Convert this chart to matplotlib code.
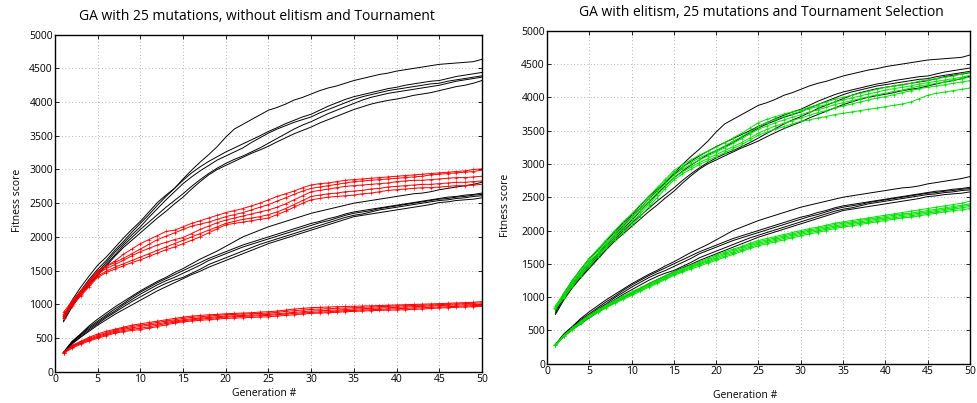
import matplotlib

matplotlib.use("Agg")
import matplotlib.pyplot as plt  # noqa: E402

plt.rcParams["font.family"] = ["Open Sans", "DejaVu Sans"]

generations = list(range(1, 51))

# black runs (same in both panels)
black_upper = [
    [800, 1060, 1250, 1420, 1580, 1700, 1840, 1980, 2110, 2230, 2370, 2510, 2620, 2720, 2860, 2990, 3110, 3220, 3340, 3480, 3600, 3670, 3740, 3810, 3880, 3920, 3970, 4030, 4070, 4120, 4170, 4210, 4240, 4280, 4320, 4350, 4380, 4410, 4430, 4460, 4480, 4500, 4520, 4540, 4560, 4570, 4580, 4590, 4600, 4635],
    [820, 1020, 1200, 1370, 1520, 1650, 1800, 1930, 2070, 2200, 2330, 2470, 2600, 2720, 2840, 2950, 3040, 3120, 3190, 3260, 3320, 3380, 3440, 3500, 3565, 3620, 3680, 3730, 3780, 3820, 3880, 3940, 3990, 4040, 4080, 4110, 4140, 4170, 4200, 4220, 4250, 4270, 4290, 4310, 4320, 4350, 4380, 4400, 4420, 4440],
    [760, 1000, 1180, 1340, 1480, 1620, 1770, 1900, 2030, 2150, 2290, 2420, 2550, 2670, 2790, 2890, 2980, 3060, 3140, 3200, 3260, 3320, 3400, 3470, 3540, 3600, 3650, 3700, 3740, 3780, 3840, 3890, 3940, 3990, 4040, 4080, 4110, 4140, 4170, 4190, 4210, 4230, 4250, 4270, 4280, 4310, 4330, 4350, 4370, 4390],
    [790, 990, 1160, 1310, 1450, 1590, 1730, 1870, 1990, 2110, 2220, 2330, 2440, 2540, 2640, 2750, 2850, 2940, 3020, 3090, 3150, 3200, 3260, 3320, 3390, 3460, 3530, 3600, 3660, 3710, 3770, 3830, 3880, 3930, 3980, 4030, 4070, 4100, 4130, 4150, 4170, 4190, 4210, 4230, 4250, 4280, 4310, 4330, 4350, 4370],
    [740, 960, 1140, 1290, 1430, 1570, 1710, 1840, 1950, 2060, 2170, 2280, 2380, 2490, 2590, 2710, 2820, 2920, 3000, 3060, 3120, 3180, 3240, 3290, 3345, 3410, 3470, 3530, 3580, 3630, 3690, 3740, 3790, 3840, 3890, 3930, 3970, 4000, 4025, 4045, 4070, 4100, 4120, 4140, 4170, 4200, 4230, 4250, 4280, 4320],
]
black_lower = [
    [290, 450, 560, 680, 780, 870, 960, 1040, 1120, 1200, 1270, 1340, 1400, 1470, 1530, 1600, 1670, 1730, 1790, 1860, 1930, 2000, 2050, 2100, 2150, 2190, 2230, 2270, 2310, 2350, 2380, 2410, 2440, 2470, 2500, 2520, 2540, 2560, 2580, 2600, 2620, 2640, 2650, 2670, 2700, 2720, 2740, 2760, 2780, 2810],
    [280, 440, 550, 660, 750, 840, 930, 1010, 1100, 1180, 1250, 1320, 1380, 1440, 1500, 1560, 1620, 1680, 1730, 1780, 1830, 1880, 1920, 1960, 2000, 2040, 2080, 2120, 2160, 2200, 2230, 2270, 2300, 2340, 2370, 2390, 2410, 2430, 2450, 2470, 2490, 2510, 2530, 2550, 2570, 2590, 2600, 2620, 2630, 2650],
    [285, 430, 540, 640, 730, 820, 900, 990, 1070, 1150, 1220, 1290, 1350, 1400, 1460, 1520, 1580, 1650, 1700, 1750, 1800, 1850, 1890, 1930, 1970, 2010, 2050, 2090, 2130, 2170, 2210, 2240, 2280, 2320, 2350, 2370, 2390, 2420, 2440, 2460, 2480, 2500, 2520, 2540, 2560, 2570, 2590, 2600, 2620, 2630],
    [275, 420, 520, 620, 710, 800, 880, 960, 1040, 1110, 1180, 1250, 1310, 1360, 1400, 1460, 1520, 1590, 1640, 1690, 1740, 1790, 1840, 1890, 1930, 1970, 2010, 2050, 2090, 2130, 2170, 2210, 2250, 2290, 2320, 2340, 2370, 2400, 2420, 2440, 2460, 2480, 2500, 2520, 2540, 2550, 2570, 2580, 2600, 2610],
    [270, 410, 510, 600, 690, 770, 850, 920, 990, 1060, 1130, 1200, 1260, 1320, 1380, 1440, 1490, 1550, 1600, 1650, 1700, 1750, 1800, 1850, 1900, 1940, 1980, 2020, 2060, 2100, 2140, 2180, 2220, 2260, 2300, 2320, 2340, 2360, 2380, 2400, 2420, 2440, 2460, 2480, 2510, 2520, 2540, 2550, 2560, 2580],
]

# left panel: no elitism (red)
red_upper = [
    [880, 1050, 1200, 1350, 1500, 1570, 1640, 1740, 1820, 1900, 1960, 2020, 2080, 2100, 2150, 2200, 2240, 2280, 2320, 2360, 2390, 2420, 2460, 2500, 2550, 2600, 2640, 2680, 2730, 2770, 2790, 2800, 2820, 2840, 2850, 2860, 2870, 2880, 2890, 2900, 2910, 2920, 2930, 2940, 2950, 2960, 2970, 2980, 3000, 3010],
    [850, 1030, 1180, 1330, 1480, 1560, 1620, 1680, 1750, 1820, 1890, 1960, 2010, 2060, 2110, 2160, 2190, 2220, 2260, 2300, 2330, 2360, 2400, 2440, 2480, 2530, 2580, 2630, 2680, 2720, 2740, 2760, 2780, 2800, 2820, 2830, 2840, 2850, 2860, 2870, 2880, 2890, 2900, 2920, 2930, 2940, 2950, 2960, 2970, 2990],
    [830, 1010, 1160, 1310, 1450, 1530, 1590, 1650, 1720, 1780, 1830, 1880, 1920, 1960, 1990, 2050, 2110, 2160, 2210, 2250, 2280, 2310, 2340, 2370, 2400, 2440, 2490, 2550, 2610, 2670, 2690, 2710, 2730, 2750, 2760, 2770, 2780, 2790, 2800, 2820, 2830, 2840, 2840, 2850, 2860, 2870, 2880, 2880, 2890, 2900],
    [800, 990, 1140, 1280, 1420, 1490, 1550, 1600, 1650, 1700, 1750, 1800, 1850, 1900, 1950, 2000, 2050, 2100, 2150, 2200, 2230, 2260, 2280, 2300, 2330, 2370, 2420, 2480, 2540, 2600, 2620, 2640, 2650, 2670, 2680, 2690, 2710, 2720, 2740, 2750, 2760, 2770, 2780, 2780, 2790, 2800, 2810, 2810, 2820, 2830],
    [790, 980, 1120, 1260, 1400, 1470, 1520, 1570, 1620, 1660, 1710, 1760, 1810, 1850, 1900, 1950, 2000, 2060, 2120, 2180, 2200, 2220, 2240, 2260, 2280, 2330, 2380, 2440, 2500, 2550, 2570, 2590, 2600, 2610, 2620, 2640, 2650, 2670, 2690, 2700, 2710, 2720, 2730, 2730, 2740, 2750, 2760, 2760, 2770, 2780],
]
red_lower = [
    [290, 390, 450, 510, 560, 600, 630, 660, 690, 710, 730, 750, 770, 790, 810, 825, 835, 845, 850, 860, 865, 870, 875, 885, 890, 900, 915, 930, 940, 950, 955, 960, 965, 968, 970, 975, 978, 982, 986, 990, 994, 998, 1002, 1006, 1010, 1015, 1020, 1025, 1030, 1040],
    [285, 380, 440, 495, 540, 580, 615, 645, 670, 690, 710, 730, 750, 770, 790, 805, 815, 825, 835, 845, 850, 855, 860, 865, 870, 880, 895, 905, 915, 925, 930, 935, 940, 945, 950, 955, 960, 965, 970, 975, 978, 982, 986, 990, 995, 1000, 1005, 1010, 1015, 1020],
    [280, 370, 430, 480, 525, 565, 600, 630, 650, 670, 690, 710, 730, 750, 770, 785, 795, 805, 815, 825, 830, 835, 840, 845, 850, 860, 870, 880, 890, 900, 905, 910, 915, 922, 930, 935, 940, 945, 950, 955, 960, 965, 970, 975, 980, 985, 988, 992, 996, 1000],
    [275, 360, 420, 470, 510, 550, 585, 610, 630, 645, 665, 690, 715, 735, 755, 770, 780, 790, 800, 810, 815, 820, 825, 830, 835, 845, 855, 865, 872, 880, 885, 890, 898, 905, 910, 915, 920, 925, 930, 935, 940, 945, 950, 955, 960, 965, 970, 975, 980, 985],
    [270, 350, 405, 455, 495, 535, 570, 595, 612, 625, 645, 670, 695, 720, 740, 752, 762, 772, 782, 790, 795, 800, 805, 810, 815, 825, 835, 845, 855, 865, 870, 875, 882, 890, 895, 900, 905, 910, 913, 915, 920, 925, 930, 938, 945, 950, 955, 960, 965, 970],
]

# right panel: with elitism (green)
green_upper = [
    [870, 1060, 1250, 1420, 1580, 1720, 1860, 2000, 2130, 2250, 2380, 2510, 2640, 2770, 2900, 2990, 3060, 3130, 3190, 3250, 3320, 3390, 3460, 3540, 3620, 3670, 3710, 3750, 3780, 3810, 3850, 3890, 3930, 3970, 4000, 4030, 4060, 4090, 4120, 4150, 4170, 4190, 4210, 4240, 4260, 4280, 4300, 4320, 4350, 4380],
    [850, 1040, 1230, 1400, 1550, 1690, 1830, 1960, 2080, 2200, 2330, 2470, 2610, 2740, 2870, 2950, 3020, 3090, 3150, 3200, 3270, 3340, 3410, 3480, 3560, 3620, 3670, 3710, 3750, 3790, 3830, 3860, 3890, 3930, 3960, 3990, 4020, 4050, 4080, 4110, 4130, 4150, 4170, 4200, 4220, 4240, 4260, 4280, 4300, 4330],
    [840, 1020, 1200, 1370, 1520, 1660, 1800, 1930, 2050, 2170, 2300, 2430, 2570, 2700, 2830, 2920, 2990, 3060, 3120, 3180, 3240, 3310, 3380, 3450, 3520, 3570, 3620, 3660, 3700, 3740, 3780, 3810, 3850, 3890, 3920, 3950, 3980, 4010, 4040, 4060, 4090, 4110, 4140, 4170, 4190, 4210, 4230, 4260, 4280, 4300],
    [830, 1000, 1180, 1340, 1490, 1630, 1760, 1890, 2010, 2120, 2250, 2390, 2530, 2660, 2790, 2880, 2950, 3020, 3080, 3140, 3200, 3260, 3320, 3390, 3460, 3520, 3570, 3610, 3650, 3690, 3730, 3770, 3800, 3840, 3870, 3900, 3930, 3960, 3990, 4010, 4040, 4070, 4100, 4130, 4150, 4170, 4190, 4210, 4230, 4250],
    [820, 990, 1160, 1320, 1460, 1600, 1730, 1860, 1970, 2080, 2210, 2350, 2490, 2630, 2760, 2850, 2920, 2990, 3050, 3110, 3170, 3230, 3290, 3360, 3430, 3480, 3520, 3560, 3600, 3640, 3660, 3690, 3710, 3740, 3760, 3780, 3800, 3820, 3840, 3860, 3880, 3900, 3930, 3980, 4030, 4060, 4080, 4100, 4120, 4140],
]
green_lower = [
    [290, 430, 540, 640, 730, 810, 880, 950, 1020, 1080, 1140, 1200, 1260, 1320, 1380, 1430, 1480, 1530, 1580, 1630, 1680, 1720, 1760, 1810, 1850, 1880, 1910, 1940, 1970, 2000, 2030, 2050, 2080, 2110, 2130, 2150, 2170, 2190, 2210, 2230, 2250, 2270, 2290, 2310, 2330, 2350, 2370, 2390, 2410, 2440],
    [285, 425, 530, 630, 720, 800, 870, 940, 1005, 1065, 1125, 1185, 1245, 1305, 1365, 1415, 1465, 1515, 1560, 1610, 1660, 1700, 1745, 1790, 1830, 1860, 1890, 1920, 1950, 1980, 2010, 2030, 2060, 2090, 2110, 2130, 2150, 2170, 2190, 2210, 2230, 2250, 2260, 2280, 2300, 2320, 2340, 2360, 2380, 2400],
    [280, 420, 525, 620, 710, 790, 860, 930, 990, 1050, 1110, 1170, 1230, 1290, 1350, 1400, 1450, 1500, 1545, 1590, 1640, 1680, 1725, 1770, 1810, 1840, 1870, 1900, 1930, 1960, 1990, 2010, 2040, 2070, 2090, 2110, 2130, 2150, 2170, 2190, 2210, 2230, 2240, 2260, 2280, 2300, 2320, 2340, 2360, 2380],
    [278, 415, 520, 615, 705, 780, 850, 920, 980, 1040, 1100, 1160, 1220, 1280, 1340, 1390, 1440, 1485, 1530, 1570, 1620, 1660, 1705, 1750, 1790, 1820, 1850, 1880, 1910, 1940, 1970, 1990, 2020, 2050, 2070, 2090, 2110, 2130, 2150, 2170, 2190, 2210, 2220, 2240, 2260, 2280, 2300, 2320, 2340, 2360],
    [275, 410, 510, 605, 695, 770, 840, 905, 965, 1025, 1085, 1145, 1205, 1265, 1325, 1375, 1420, 1465, 1510, 1550, 1600, 1640, 1685, 1730, 1770, 1800, 1830, 1860, 1890, 1920, 1950, 1970, 2000, 2030, 2050, 2070, 2090, 2110, 2130, 2150, 2170, 2190, 2200, 2220, 2240, 2260, 2280, 2300, 2310, 2330],
]

for group in (black_upper, black_lower, red_upper, red_lower, green_upper, green_lower):
    for run in group:
        assert len(run) == len(generations), len(run)


def style_axes(ax):
    ax.set_xlim(0, 50)
    ax.set_ylim(0, 5000)
    ax.set_xticks(range(0, 51, 5))
    ax.set_yticks(range(0, 5001, 500))
    ax.tick_params(direction="in", top=True, right=True, length=3,
                   width=0.6, labelsize=7.5, pad=1.5)
    ax.grid(True, color="#9a9a9a", ls=(0, (1, 3)), lw=0.6)
    for s in ax.spines.values():
        s.set_linewidth(1.0)


def draw_runs(ax, runs, color, marker=None):
    for run in runs:
        ax.plot(generations, run, color=color, lw=0.7,
                marker=marker, ms=2.4, mew=0.4)


fig = plt.figure(figsize=(9.78, 4.03), dpi=100)
axl = fig.add_axes([0.0562, 0.0777, 0.4366, 0.8362])
axr = fig.add_axes([0.5593, 0.0975, 0.4325, 0.8263])

draw_runs(axl, black_upper, "black")
draw_runs(axl, black_lower, "black")
draw_runs(axl, red_upper, "#ff0000", "+")
draw_runs(axl, red_lower, "#ff0000", "+")
style_axes(axl)

draw_runs(axr, black_upper, "black")
draw_runs(axr, black_lower, "black")
draw_runs(axr, green_upper, "#00e000", "+")
draw_runs(axr, green_lower, "#00e000", "+")
style_axes(axr)

fig.text(257 / 978, 1 - 17 / 403, "GA with 25 mutations, without elitism and Tournament",
         ha="center", va="center", fontsize=10)
fig.text(761 / 978, 1 - 12 / 403, "GA with elitism, 25 mutations and Tournament Selection",
         ha="center", va="center", fontsize=10)
fig.text(264 / 978, 1 - 393 / 403, "Generation #", ha="center", va="center", fontsize=7.5)
fig.text(745 / 978, 1 - 395 / 403, "Generation #", ha="center", va="center", fontsize=7.5)
fig.text(17 / 978, 1 - 200 / 403, "Fitness score", ha="center", va="center",
         rotation=90, fontsize=7.5)
fig.text(505 / 978, 1 - 205 / 403, "Fitness score", ha="center", va="center",
         rotation=90, fontsize=7.5)

fig.savefig("out.png", dpi=100)
plt.close(fig)
